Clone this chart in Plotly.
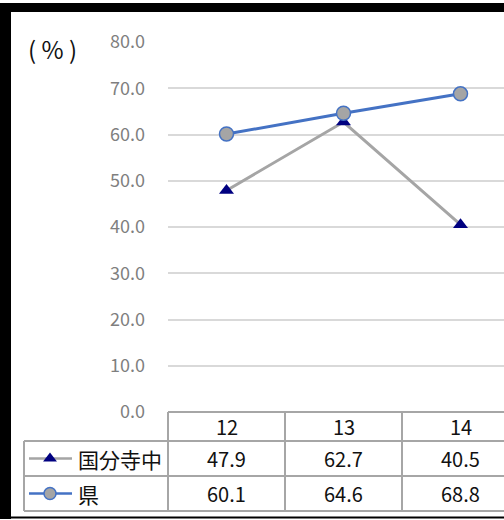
import plotly.graph_objects as go

# ---- data ----
categories = ["12", "13", "14"]
school_name = "国分寺中"
school_values = [47.9, 62.7, 40.5]
pref_name = "県"
pref_values = [60.1, 64.6, 68.8]
y_ticks = [0, 10, 20, 30, 40, 50, 60, 70, 80]
unit_label = "( % )"

# ---- layout constants (pixels) ----
W, H = 504, 520
PLOT_L, PLOT_T, PLOT_B = 168, 42, 412
COL_W = 117
HEAD_B, ROW1_B, ROW2_B = 441, 476, 511
TABLE_L = 24
FONT = "Noto Sans CJK JP"
GRID_C = "#d9d9d9"
TABLE_C = "#a6a6a6"
GRAY = "#a5a5a5"
BLUE = "#4472c4"
NAVY = "#000080"

x_span = (W - PLOT_L) / COL_W
fig = go.Figure()

fig.add_trace(go.Scatter(
    x=categories, y=school_values, mode="lines+markers", name=school_name,
    line=dict(color=GRAY, width=3),
    marker=dict(symbol="triangle-up", size=13, color=NAVY, line=dict(color=NAVY, width=0)),
    cliponaxis=False, showlegend=False))
fig.add_trace(go.Scatter(
    x=categories, y=pref_values, mode="lines+markers", name=pref_name,
    line=dict(color=BLUE, width=3),
    marker=dict(symbol="circle", size=14, color=GRAY, line=dict(color=BLUE, width=1.5)),
    cliponaxis=False, showlegend=False))

# legend samples in the table's first column (pixel axes x2/y2)
row1_c = (HEAD_B + ROW1_B) / 2
row2_c = (ROW1_B + ROW2_B) / 2
fig.add_trace(go.Scatter(x=[29, 72], y=[row1_c, row1_c], mode="lines",
                         line=dict(color=GRAY, width=2.5), xaxis="x2", yaxis="y2",
                         showlegend=False, hoverinfo="skip"))
fig.add_trace(go.Scatter(x=[50], y=[row1_c], mode="markers",
                         marker=dict(symbol="triangle-up", size=12, color=NAVY),
                         xaxis="x2", yaxis="y2", showlegend=False, hoverinfo="skip"))
fig.add_trace(go.Scatter(x=[29, 72], y=[row2_c, row2_c], mode="lines",
                         line=dict(color=BLUE, width=2.5), xaxis="x2", yaxis="y2",
                         showlegend=False, hoverinfo="skip"))
fig.add_trace(go.Scatter(x=[50], y=[row2_c], mode="markers",
                         marker=dict(symbol="circle", size=12, color=GRAY,
                                     line=dict(color=BLUE, width=1.5)),
                         xaxis="x2", yaxis="y2", showlegend=False, hoverinfo="skip"))

shapes = []
def pline(x0, y0, x1, y1, color=TABLE_C, width=2):
    shapes.append(dict(type="line", xref="x2", yref="y2", x0=x0, y0=y0, x1=x1, y1=y1,
                       line=dict(color=color, width=width), layer="below"))

# table grid
pline(PLOT_L, PLOT_B, W, PLOT_B)
for yb in (HEAD_B, ROW1_B, ROW2_B):
    pline(TABLE_L, yb, W, yb)
pline(TABLE_L, HEAD_B, TABLE_L, ROW2_B)
for i in range(len(categories)):
    xx = PLOT_L + i * COL_W
    pline(xx, PLOT_B, xx, ROW2_B)

# black frame
shapes.append(dict(type="rect", xref="x2", yref="y2", x0=0, x1=11, y0=3, y1=519,
                   fillcolor="black", line=dict(width=0), layer="above"))
shapes.append(dict(type="rect", xref="x2", yref="y2", x0=0, x1=W, y0=3, y1=12,
                   fillcolor="black", line=dict(width=0), layer="above"))
shapes.append(dict(type="line", xref="x2", yref="y2", x0=0, x1=W, y0=517.5, y1=517.5,
                   line=dict(color="black", width=2), layer="above"))

def py2paper(py):
    return 1 - py / H

annotations = []
head_c = (PLOT_B + HEAD_B) / 2
for i, (c, v1, v2) in enumerate(zip(categories, school_values, pref_values)):
    for txt, yy in ((c, head_c), (f"{v1:.1f}", row1_c), (f"{v2:.1f}", row2_c)):
        annotations.append(dict(x=i, y=py2paper(yy), xref="x", yref="paper", text=txt,
                                showarrow=False,
                                font=dict(family=FONT, size=20, color="#111111"),
                                xanchor="center", yanchor="middle"))
annotations.append(dict(x=76, y=row1_c, xref="x2", yref="y2", text=school_name, showarrow=False,
                        font=dict(family=FONT, size=21, color="#111111"),
                        xanchor="left", yanchor="middle"))
annotations.append(dict(x=76, y=row2_c, xref="x2", yref="y2", text=pref_name, showarrow=False,
                        font=dict(family=FONT, size=21, color="#111111"),
                        xanchor="left", yanchor="middle"))
annotations.append(dict(x=52, y=48, xref="x2", yref="y2", text=unit_label, showarrow=False,
                        font=dict(family=FONT, size=24, color="#111111"),
                        xanchor="center", yanchor="middle"))

fig.update_layout(
    template="none",
    width=W, height=H,
    margin=dict(l=0, r=0, t=0, b=0),
    paper_bgcolor="white", plot_bgcolor="rgba(0,0,0,0)",
    font=dict(family=FONT),
    xaxis=dict(domain=[PLOT_L / W, 1], type="category", range=[-0.5, -0.5 + x_span],
               showgrid=False, showticklabels=False, ticks="", showline=False,
               zeroline=False, automargin=False, fixedrange=True),
    yaxis=dict(domain=[(H - PLOT_B) / H, (H - PLOT_T) / H], range=[0, 80],
               tickvals=y_ticks, tickformat=".1f", showgrid=True, gridcolor=GRID_C,
               gridwidth=1.5, zeroline=False, showline=False, ticks="",
               ticklabelstandoff=22,
               tickfont=dict(family=FONT, size=18, color="#7f7f7f"),
               automargin=False, fixedrange=True),
    xaxis2=dict(domain=[0, 1], range=[0, W], anchor="y2", visible=False, fixedrange=True),
    yaxis2=dict(domain=[0, 1], range=[H, 0], anchor="x2", visible=False, fixedrange=True),
    shapes=shapes, annotations=annotations,
)

fig.write_html("out.html")
